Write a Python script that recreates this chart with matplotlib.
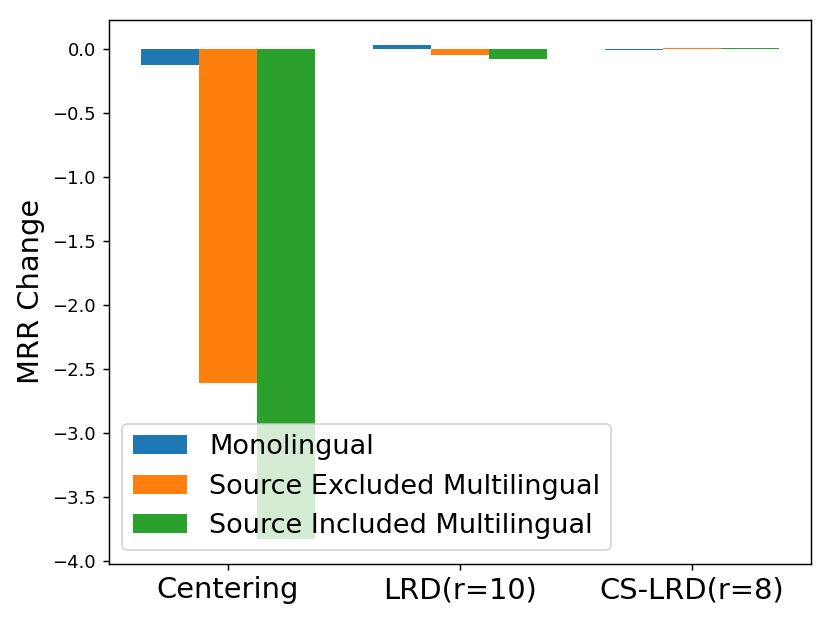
import matplotlib
matplotlib.use("Agg")
import matplotlib.pyplot as plt
import numpy as np

methods = ["Centering", "LRD(r=10)", "CS-LRD(r=8)"]
monolingual = [-0.13, 0.03, -0.01]
src_excluded = [-2.61, -0.05, 0.005]
src_included = [-3.83, -0.08, 0.005]

x = np.arange(len(methods))
w = 0.25

fig, ax = plt.subplots(figsize=(830 / 130, 623 / 130), dpi=130)
ax.bar(x - w, monolingual, w, label="Monolingual")
ax.bar(x, src_excluded, w, label="Source Excluded Multilingual")
ax.bar(x + w, src_included, w, label="Source Included Multilingual")

ax.set_xticks(x)
ax.set_xticklabels(methods, fontsize=16)
ax.set_ylabel("MRR Change", fontsize=16)
ax.legend(loc="lower left", fontsize=15)

plt.subplots_adjust(left=0.131, right=0.977, top=0.968, bottom=0.095)
plt.savefig("out.png", dpi=130)
